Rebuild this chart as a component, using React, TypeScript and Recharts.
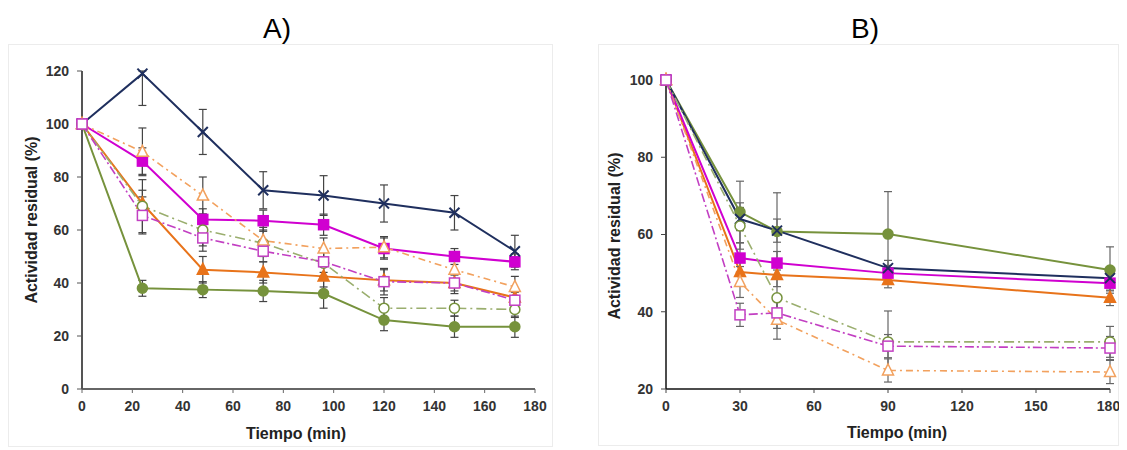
import React from 'react';
import { LineChart, Line, XAxis, YAxis, ErrorBar } from 'recharts';

// ---------- Panel A data ----------
const timesA = [0, 24, 48, 72, 96, 120, 148, 172];
const aNavyX = [100, 119, 97, 75, 73, 70, 66.5, 52];
const aNavyXErr: (number | number[])[] = [0, [12, 1], 8.5, 7, 7.5, 7, 6.5, 6];
const aMagFilled = [100, 86, 64, 63.5, 62, 53, 50, 48];
const aMagFilledErr = [0, 5, 4, 4, 4, 4, 3, 3];
const aOrgFilled = [100, 70, 45, 44, 42.5, 41, 40, 34.5];
const aOrgFilledErr = [0, 5, 5, 4, 4, 4, 3, 3];
const aGrnFilled = [100, 38, 37.5, 37, 36, 26, 23.5, 23.5];
const aGrnFilledErr = [0, 3, 3, 4, 5.5, 4, 4, 4];
const aGrnOpen = [100, 69, 60, 55, 47.5, 30.5, 30.5, 30];
const aGrnOpenErr = [0, 10, 6, 5, 5, 4, 3, 3];
const aOrgOpen = [100, 89.5, 73, 56, 53, 53.5, 45, 38.5];
const aOrgOpenErr = [0, 9, 7, 5, 4, 4, 4, 4];
const aMagOpen = [100, 65.5, 57, 52, 48, 40.5, 40, 33.5];
const aMagOpenErr = [0, 7, 5, 4, 4, 5, 4, 3];
const ticksAX = [0, 20, 40, 60, 80, 100, 120, 140, 160, 180];
const ticksAY = [0, 20, 40, 60, 80, 100, 120];

// ---------- Panel B data ----------
const timesB = [0, 30, 45, 90, 180];
const bGrnFilled = [100, 65.8, 60.8, 60.1, 50.8];
const bGrnFilledErr = [0, 8, 10, 11, 6];
const bNavyX = [100, 64, 61, 51.3, 48.7];
const bNavyXErr = [0, 3, 3, 2, 2];
const bMagFilled = [100, 53.9, 52.6, 50, 47.4];
const bMagFilledErr = [0, 4, 3, 2, 2];
const bOrgFilled = [100, 50.3, 49.5, 48.2, 43.6];
const bOrgFilledErr = [0, 3, 3, 2, 2];
const bGrnOpen = [100, 62.2, 43.6, 32.2, 32.2];
const bGrnOpenErr = [0, 6, 5, 8, 4];
const bMagOpen = [100, 39.2, 39.7, 31.1, 30.6];
const bMagOpenErr = [0, 3, 4, 3, 3];
const bOrgOpen = [100, 47.7, 37.9, 24.8, 24.4];
const bOrgOpenErr = [0, 4, 5, 3, 3];
const ticksBX = [0, 30, 60, 90, 120, 150, 180];
const ticksBY = [20, 40, 60, 80, 100];

const rowsA = timesA.map((t, i) => ({
  t,
  nx: aNavyX[i], nxE: aNavyXErr[i],
  mf: aMagFilled[i], mfE: aMagFilledErr[i],
  of: aOrgFilled[i], ofE: aOrgFilledErr[i],
  gf: aGrnFilled[i], gfE: aGrnFilledErr[i],
  go: aGrnOpen[i], goE: aGrnOpenErr[i],
  oo: aOrgOpen[i], ooE: aOrgOpenErr[i],
  mo: aMagOpen[i], moE: aMagOpenErr[i],
}));

const rowsB = timesB.map((t, i) => ({
  t,
  nx: bNavyX[i], nxE: bNavyXErr[i],
  mf: bMagFilled[i], mfE: bMagFilledErr[i],
  of: bOrgFilled[i], ofE: bOrgFilledErr[i],
  gf: bGrnFilled[i], gfE: bGrnFilledErr[i],
  go: bGrnOpen[i], goE: bGrnOpenErr[i],
  oo: bOrgOpen[i], ooE: bOrgOpenErr[i],
  mo: bMagOpen[i], moE: bMagOpenErr[i],
}));

const NAVY = '#1f2f5e';
const MAG = '#d000d0';
const ORG = '#e8731a';
const GRN = '#76923c';
const ORG_L = '#f2a15e';
const GRN_L = '#9aae6e';
const MAG_L = '#c23fc2';

type Kind = 'x' | 'sq' | 'tri' | 'circ';
const makeDot = (kind: Kind, stroke: string, fill: string) => (p: any) => {
  const { cx, cy, index } = p;
  const key = `d-${kind}-${stroke}-${fill}-${index}`;
  if (cx == null || cy == null) return <g key={key} />;
  if (kind === 'x') {
    return (
      <g key={key}>
        <line x1={cx - 5} y1={cy - 5} x2={cx + 5} y2={cy + 5} stroke={stroke} strokeWidth={2} />
        <line x1={cx - 5} y1={cy + 5} x2={cx + 5} y2={cy - 5} stroke={stroke} strokeWidth={2} />
      </g>
    );
  }
  if (kind === 'sq') {
    return <rect key={key} x={cx - 5} y={cy - 5} width={10} height={10} fill={fill} stroke={stroke} strokeWidth={1.5} />;
  }
  if (kind === 'tri') {
    return (
      <polygon
        key={key}
        points={`${cx},${cy - 6.5} ${cx - 5.5},${cy + 4.5} ${cx + 5.5},${cy + 4.5}`}
        fill={fill}
        stroke={stroke}
        strokeWidth={1.5}
      />
    );
  }
  return <circle key={key} cx={cx} cy={cy} r={5} fill={fill} stroke={stroke} strokeWidth={1.5} />;
};

const tickStyle = { fill: '#333', fontSize: 14, fontWeight: 'bold' as const, fontFamily: 'Liberation Sans, Arial, sans-serif' };

const EB = ({ k, c = '#444' }: { k: string; c?: string }) => (
  <ErrorBar dataKey={k} width={4} stroke={c} strokeWidth={1.2} direction="y" />
);

const seriesLines = (errColor: string) => [
  <Line key="gf" dataKey="gf" type="linear" stroke={GRN} strokeWidth={2} isAnimationActive={false} dot={makeDot('circ', GRN, GRN)}>
    {EB({ k: 'gfE', c: errColor })}
  </Line>,
  <Line key="of" dataKey="of" type="linear" stroke={ORG} strokeWidth={2} isAnimationActive={false} dot={makeDot('tri', ORG, ORG)}>
    {EB({ k: 'ofE', c: errColor })}
  </Line>,
  <Line key="mf" dataKey="mf" type="linear" stroke={MAG} strokeWidth={2} isAnimationActive={false} dot={makeDot('sq', MAG, MAG)}>
    {EB({ k: 'mfE', c: errColor })}
  </Line>,
  <Line key="nx" dataKey="nx" type="linear" stroke={NAVY} strokeWidth={2} isAnimationActive={false} dot={makeDot('x', NAVY, NAVY)}>
    {EB({ k: 'nxE', c: errColor })}
  </Line>,
  <Line key="go" dataKey="go" type="linear" stroke={GRN_L} strokeWidth={1.6} strokeDasharray="10 4 2 4" isAnimationActive={false} dot={makeDot('circ', GRN, '#fff')}>
    {EB({ k: 'goE', c: errColor })}
  </Line>,
  <Line key="oo" dataKey="oo" type="linear" stroke={ORG_L} strokeWidth={1.6} strokeDasharray="7 4 2 4" isAnimationActive={false} dot={makeDot('tri', ORG_L, '#fff')}>
    {EB({ k: 'ooE', c: errColor })}
  </Line>,
  <Line key="mo" dataKey="mo" type="linear" stroke={MAG_L} strokeWidth={1.6} strokeDasharray="9 3 2 3" isAnimationActive={false} dot={makeDot('sq', MAG_L, '#fff')}>
    {EB({ k: 'moE', c: errColor })}
  </Line>,
];

const abs = (l: number, t: number): React.CSSProperties => ({ position: 'absolute', left: l, top: t });

export default function App() {
  const font = 'Liberation Sans, Arial, sans-serif';
  return (
    <div style={{ position: 'relative', width: 1111, height: 442, fontFamily: font, background: '#fff' }}>
      {/* panel frames */}
      <div style={{ ...abs(0, 36), width: 545, height: 403, border: '1px solid #ececec', boxSizing: 'border-box' }} />
      <div style={{ ...abs(590, 36), width: 521, height: 402, border: '1px solid #ececec', boxSizing: 'border-box' }} />

      {/* titles */}
      <div style={{ ...abs(219, 5), width: 100, textAlign: 'center', fontSize: 28, lineHeight: '32px', color: '#000' }}>A)</div>
      <div style={{ ...abs(807, 5), width: 100, textAlign: 'center', fontSize: 28, lineHeight: '32px', color: '#000' }}>B)</div>

      {/* Chart A */}
      <div style={abs(0, 0)}>
        <LineChart width={560} height={440} data={rowsA} margin={{ top: 63, right: 33, bottom: 29, left: 24 }}>
          <XAxis
            dataKey="t"
            type="number"
            domain={[0, 180]}
            ticks={ticksAX}
            height={30}
            tick={tickStyle}
            tickSize={4}
            tickMargin={8}
            axisLine={{ stroke: '#666', strokeWidth: 2 }}
            tickLine={{ stroke: '#666' }}
          />
          <YAxis
            type="number"
            domain={[0, 120]}
            ticks={ticksAY}
            width={50}
            tick={tickStyle}
            tickSize={5}
            tickMargin={8}
            axisLine={{ stroke: '#555', strokeWidth: 2 }}
            tickLine={{ stroke: '#555' }}
          />
          {seriesLines('#444')}
        </LineChart>
      </div>

      {/* Chart B */}
      <div style={abs(575, 0)}>
        <LineChart width={536} height={440} data={rowsB} margin={{ top: 72, right: 9, bottom: 29, left: 33 }}>
          <XAxis
            dataKey="t"
            type="number"
            domain={[0, 180]}
            ticks={ticksBX}
            height={30}
            tick={tickStyle}
            tickSize={4}
            tickMargin={8}
            axisLine={{ stroke: '#111', strokeWidth: 1.5 }}
            tickLine={{ stroke: '#444' }}
          />
          <YAxis
            type="number"
            domain={[20, 100]}
            ticks={ticksBY}
            width={50}
            tick={tickStyle}
            tickSize={5}
            tickMargin={8}
            axisLine={{ stroke: '#111', strokeWidth: 1.5 }}
            tickLine={{ stroke: '#444' }}
          />
          {seriesLines('#666')}
        </LineChart>
      </div>

      {/* axis titles */}
      <div style={{ ...abs(24 - 120, 212 - 10), width: 240, height: 20, textAlign: 'center', transform: 'rotate(-90deg)', fontSize: 16, fontWeight: 'bold', lineHeight: '20px', color: '#222' }}>
        Actividad residual (%)
      </div>
      <div style={{ ...abs(607 - 120, 228 - 10), width: 240, height: 20, textAlign: 'center', transform: 'rotate(-90deg)', fontSize: 16, fontWeight: 'bold', lineHeight: '20px', color: '#222' }}>
        Actividad residual (%)
      </div>
      <div style={{ ...abs(288 - 100, 426 - 10), width: 200, textAlign: 'center', fontSize: 16, fontWeight: 'bold', lineHeight: '20px', color: '#222' }}>
        Tiempo (min)
      </div>
      <div style={{ ...abs(889 - 100, 425 - 10), width: 200, textAlign: 'center', fontSize: 16, fontWeight: 'bold', lineHeight: '20px', color: '#222' }}>
        Tiempo (min)
      </div>
    </div>
  );
}
